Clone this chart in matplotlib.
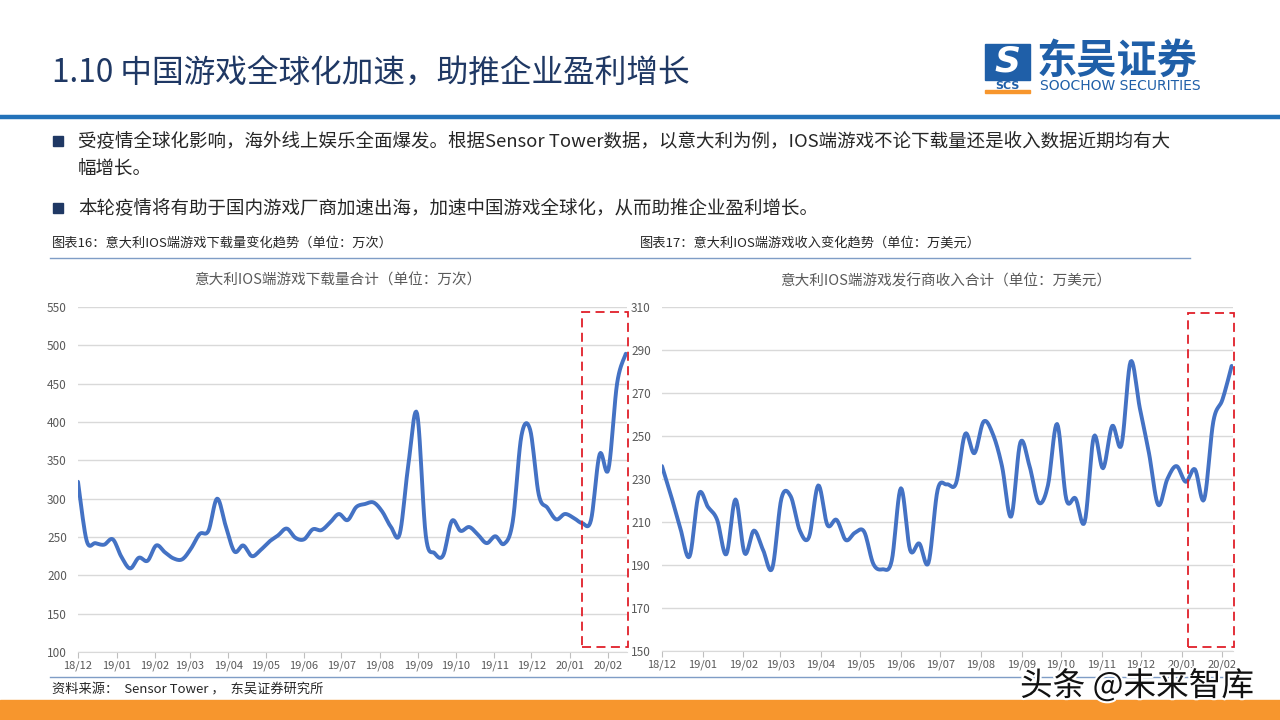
import matplotlib
matplotlib.use('Agg')
import matplotlib.pyplot as plt
import matplotlib.dates as mdates
import matplotlib.patheffects as pe
from matplotlib.patches import Rectangle
import numpy as np
import pandas as pd

plt.rcParams['font.family'] = ['Noto Sans CJK SC', 'DejaVu Sans']
plt.rcParams['axes.unicode_minus'] = False

# 周度数据，2018/12 起
weeks = pd.date_range('2018-12-01', periods=64, freq='7D')

# 下载量（万次）
downloads = [322, 245, 242, 240, 247, 224, 209, 223, 219, 239,
             230, 222, 221, 235, 254, 258, 300, 264, 231, 239,
             225, 233, 244, 252, 261, 249, 247, 260, 259, 269,
             280, 272, 289, 293, 295, 283, 263, 254, 345, 411,
             252, 229, 226, 271, 258, 263, 253, 242, 251, 241,
             270, 382, 390, 305, 288, 273, 280, 275, 268, 272,
             358, 338, 450, 489]

# 发行商收入（万美元）
revenue = [236, 222, 207, 194, 223, 217, 211, 195, 220.5, 195.4,
           206, 197, 188.5, 221, 222, 206, 203, 227, 208.6, 211,
           201.6, 205, 205.5, 190.5, 188, 192, 225.7, 197, 200, 191,
           225, 227.5, 228, 251, 242, 256.7, 251, 236, 212.5, 247,
           236, 219, 227, 255.6, 220.6, 221, 210, 249.7, 235, 254.7,
           245.8, 284.6, 263, 242, 218, 230, 236, 228.7, 234.5, 220.5,
           256.7, 267, 282.6]

title_text = '1.10 中国游戏全球化加速，助推企业盈利增长'
bullet1 = '受疫情全球化影响，海外线上娱乐全面爆发。根据Sensor Tower数据，以意大利为例，IOS端游戏不论下载量还是收入数据近期均有大'
bullet1b = '幅增长。'
bullet2 = '本轮疫情将有助于国内游戏厂商加速出海，加速中国游戏全球化，从而助推企业盈利增长。'
cap1 = '图表16：意大利IOS端游戏下载量变化趋势（单位：万次）'
cap2 = '图表17：意大利IOS端游戏收入变化趋势（单位：万美元）'
ctitle1 = '意大利IOS端游戏下载量合计（单位：万次）'
ctitle2 = '意大利IOS端游戏发行商收入合计（单位：万美元）'
source = '资料来源：  Sensor Tower ，  东吴证券研究所'

W, H = 1280, 720
LINE = '#4472C4'
GRID = '#D9D9D9'
TXT = '#595959'
NAVY = '#1F3864'


def fx(x):
    return x / W


def fy(y):
    return 1 - y / H


def smooth(x, y, n=10):
    # Excel 风格的平滑线（Catmull-Rom -> Bezier）
    p = np.column_stack([x, y]).astype(float)
    pp = np.vstack([p[0], p, p[-1]])
    t = np.linspace(0, 1, n, endpoint=False)[:, None]
    out = []
    for i in range(len(p) - 1):
        p0, p1 = pp[i + 1], pp[i + 2]
        c1 = p0 + (pp[i + 2] - pp[i]) / 6
        c2 = p1 - (pp[i + 3] - pp[i + 1]) / 6
        seg = ((1 - t) ** 3) * p0 + 3 * ((1 - t) ** 2) * t * c1 + 3 * (1 - t) * t ** 2 * c2 + t ** 3 * p1
        out.append(seg)
    out.append(p[-1][None, :])
    out = np.vstack(out)
    return out[:, 0], out[:, 1]


def draw_chart(ax, dates, vals, yticks, box):
    x = mdates.date2num(dates)
    sx, sy = smooth(x, vals)
    ax.plot(sx, sy, color=LINE, lw=2.8, solid_capstyle='round', zorder=3)
    ax.set_xlim(x[0], x[-1] + 1)
    ax.set_ylim(yticks[0], yticks[-1])
    ax.set_yticks(yticks)
    ax.grid(axis='y', color=GRID, lw=1)
    ax.set_axisbelow(True)
    for s in ['top', 'right', 'left']:
        ax.spines[s].set_visible(False)
    ax.spines['bottom'].set_color(GRID)
    ax.xaxis.set_major_locator(mdates.MonthLocator())
    ax.xaxis.set_major_formatter(mdates.DateFormatter('%y/%m'))
    ax.tick_params(axis='x', length=4, color='#BFBFBF', pad=2, labelsize=8, labelcolor=TXT)
    ax.tick_params(axis='y', length=0, pad=8, labelsize=8.5, labelcolor=TXT)
    x0, x1, y0, y1 = box
    ax.add_patch(Rectangle((x0, y0), x1 - x0, y1 - y0, fill=False, ls=(0, (5, 3)),
                           ec='#E0202A', lw=1.3, clip_on=False, zorder=4))


fig = plt.figure(figsize=(12.8, 7.2), dpi=100)

# 页眉
fig.text(fx(52), fy(73), title_text, fontsize=22.8, color=NAVY, va='center', ha='left',
         fontweight='light')
fig.add_artist(plt.Line2D([0, 1], [fy(117), fy(117)], color='#2372B9', lw=3.2))

# logo
fig.add_artist(Rectangle((fx(985), fy(80)), fx(45), 36 / H, color='#1F5FA8'))
fig.text(fx(1007), fy(62), 'S', fontsize=26, color='white', fontweight='bold', style='italic',
         ha='center', va='center', family='DejaVu Sans')
fig.text(fx(1007), fy(86), 'SCS', fontsize=8, color='#1F5FA8', fontweight='bold',
         ha='center', va='center', family='DejaVu Sans')
fig.add_artist(Rectangle((fx(985), fy(93)), fx(45), 3 / H, color='#F7962D'))
fig.text(fx(1037), fy(61), '东吴证券', fontsize=29, color='#1F5FA8', fontweight='bold',
         ha='left', va='center')
fig.text(fx(1040), fy(86), 'SOOCHOW SECURITIES', fontsize=10, color='#1F5FA8',
         ha='left', va='center', family='DejaVu Sans')

# 要点
for yy in [141, 208]:
    fig.add_artist(Rectangle((fx(53), fy(yy + 5)), fx(10), 10 / H, color=NAVY))
fig.text(fx(78), fy(141), bullet1, fontsize=13.3, color='#262626', va='center')
fig.text(fx(78), fy(170), bullet1b, fontsize=13.3, color='#262626', va='center')
fig.text(fx(78), fy(208), bullet2, fontsize=13.3, color='#262626', va='center')

# 图表标题
fig.text(fx(52), fy(243), cap1, fontsize=9.5, color='#262626', va='center')
fig.text(fx(640), fy(243), cap2, fontsize=9.5, color='#262626', va='center')
fig.add_artist(plt.Line2D([fx(50), fx(1190)], [fy(258), fy(258)], color='#7F9DC6', lw=1))
fig.text(fx(338), fy(281), ctitle1, fontsize=10.5, color=TXT, ha='center', va='center')
fig.text(fx(946), fy(281), ctitle2, fontsize=10.5, color=TXT, ha='center', va='center')

# 左图
ax1 = fig.add_axes([fx(78), fy(652), (627 - 78) / W, (652 - 307) / H])
xd = mdates.date2num(weeks)
draw_chart(ax1, weeks, downloads, list(range(100, 551, 50)),
           (xd[58], xd[-1] + 2, 107, 543))

# 右图
ax2 = fig.add_axes([fx(662), fy(651), (1233 - 662) / W, (651 - 307) / H])
xr = mdates.date2num(weeks[:len(revenue)])
draw_chart(ax2, weeks[:len(revenue)], revenue, list(range(150, 311, 20)),
           (xr[57] + 2, xr[-1] + 2, 152, 307))

# 页脚
fig.add_artist(plt.Line2D([fx(50), fx(1240)], [fy(677), fy(677)], color='#7F9DC6', lw=1))
fig.text(fx(52), fy(690), source, fontsize=9.5, color='#262626', va='center')
fig.add_artist(Rectangle((0, 0), 1, 20 / H, color='#F7962D'))
fig.text(fx(1020), fy(686), '头条 @未来智库', fontsize=23.5, color='#111111', va='center',
         path_effects=[pe.withStroke(linewidth=3, foreground='white')])

fig.savefig('out.png', dpi=100)
